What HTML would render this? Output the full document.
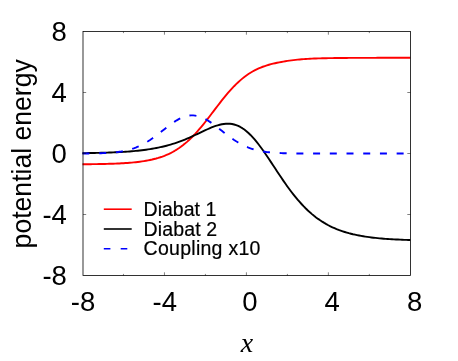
<!DOCTYPE html>
<html><head><meta charset="utf-8"><title>plot</title>
<style>
html,body{margin:0;padding:0;background:#fff;}
body{width:458px;height:361px;overflow:hidden;position:relative;font-family:"Liberation Sans",sans-serif;}
svg text{font-family:"Liberation Sans",sans-serif;fill:#000;}
svg text.xl{font-family:"Liberation Serif",serif;font-style:italic;}
</style></head><body>
<svg width="458" height="361" viewBox="0 0 458 361" style="position:absolute;left:0;top:0;will-change:transform;opacity:0.999">
<rect x="0" y="0" width="458" height="361" fill="#fff"/>
<g fill="none" stroke-linejoin="round">
<path d="M82.48,164.27 L84.53,164.25 L86.58,164.23 L88.63,164.21 L90.68,164.19 L92.73,164.16 L94.77,164.13 L96.82,164.10 L98.87,164.06 L100.92,164.03 L102.97,163.98 L105.02,163.93 L107.07,163.88 L109.12,163.82 L111.17,163.76 L113.22,163.69 L115.26,163.61 L117.31,163.52 L119.36,163.43 L121.41,163.32 L123.46,163.20 L125.51,163.07 L127.56,162.93 L129.61,162.77 L131.66,162.60 L133.71,162.41 L135.75,162.20 L137.80,161.96 L139.85,161.71 L141.90,161.43 L143.95,161.12 L146.00,160.78 L148.05,160.40 L150.10,159.99 L152.15,159.54 L154.19,159.04 L156.24,158.50 L158.29,157.91 L160.34,157.26 L162.39,156.55 L164.44,155.78 L166.49,154.94 L168.54,154.03 L170.59,153.04 L172.64,151.97 L174.69,150.81 L176.73,149.57 L178.78,148.22 L180.83,146.79 L182.88,145.24 L184.93,143.60 L186.98,141.85 L189.03,140.00 L191.08,138.04 L193.13,135.98 L195.18,133.82 L197.22,131.57 L199.27,129.23 L201.32,126.80 L203.37,124.30 L205.42,121.74 L207.47,119.13 L209.52,116.47 L211.57,113.79 L213.62,111.10 L215.67,108.40 L217.71,105.72 L219.76,103.07 L221.81,100.45 L223.86,97.89 L225.91,95.40 L227.96,92.97 L230.01,90.63 L232.06,88.38 L234.11,86.22 L236.16,84.17 L238.20,82.22 L240.25,80.37 L242.30,78.63 L244.35,77.00 L246.40,75.48 L248.45,74.06 L250.50,72.74 L252.55,71.52 L254.60,70.40 L256.64,69.36 L258.69,68.42 L260.74,67.55 L262.79,66.76 L264.84,66.03 L266.89,65.37 L268.94,64.76 L270.99,64.20 L273.04,63.69 L275.09,63.21 L277.13,62.76 L279.18,62.35 L281.23,61.96 L283.28,61.59 L285.33,61.25 L287.38,60.93 L289.43,60.63 L291.48,60.35 L293.53,60.09 L295.58,59.86 L297.62,59.64 L299.67,59.45 L301.72,59.27 L303.77,59.12 L305.82,58.98 L307.87,58.85 L309.92,58.74 L311.97,58.64 L314.02,58.56 L316.07,58.48 L318.12,58.41 L320.16,58.35 L322.21,58.29 L324.26,58.24 L326.31,58.20 L328.36,58.16 L330.41,58.12 L332.46,58.09 L334.51,58.06 L336.56,58.04 L338.61,58.01 L340.65,57.99 L342.70,57.97 L344.75,57.95 L346.80,57.94 L348.85,57.92 L350.90,57.91 L352.95,57.90 L355.00,57.89 L357.05,57.88 L359.10,57.87 L361.14,57.86 L363.19,57.86 L365.24,57.85 L367.29,57.84 L369.34,57.84 L371.39,57.83 L373.44,57.83 L375.49,57.83 L377.54,57.82 L379.59,57.82 L381.63,57.82 L383.68,57.81 L385.73,57.81 L387.78,57.81 L389.83,57.81 L391.88,57.81 L393.93,57.80 L395.98,57.80 L398.03,57.80 L400.07,57.80 L402.12,57.80 L404.17,57.80 L406.22,57.80 L408.27,57.80 L410.32,57.80" stroke="#ff0000" stroke-width="1.9"/>
<path d="M82.48,153.15 L84.53,153.13 L86.58,153.10 L88.63,153.06 L90.68,153.03 L92.73,152.99 L94.77,152.95 L96.82,152.90 L98.87,152.85 L100.92,152.80 L102.97,152.74 L105.02,152.68 L107.07,152.61 L109.12,152.54 L111.17,152.47 L113.22,152.38 L115.26,152.29 L117.31,152.19 L119.36,152.09 L121.41,151.98 L123.46,151.85 L125.51,151.72 L127.56,151.58 L129.61,151.43 L131.66,151.26 L133.71,151.08 L135.75,150.89 L137.80,150.69 L139.85,150.47 L141.90,150.23 L143.95,149.98 L146.00,149.71 L148.05,149.41 L150.10,149.10 L152.15,148.77 L154.19,148.41 L156.24,148.03 L158.29,147.62 L160.34,147.18 L162.39,146.72 L164.44,146.23 L166.49,145.71 L168.54,145.15 L170.59,144.57 L172.64,143.95 L174.69,143.29 L176.73,142.61 L178.78,141.89 L180.83,141.13 L182.88,140.34 L184.93,139.52 L186.98,138.67 L189.03,137.79 L191.08,136.89 L193.13,135.96 L195.18,135.01 L197.22,134.04 L199.27,133.07 L201.32,132.10 L203.37,131.13 L205.42,130.18 L207.47,129.24 L209.52,128.34 L211.57,127.49 L213.62,126.68 L215.67,125.95 L217.71,125.30 L219.76,124.73 L221.81,124.28 L223.86,123.94 L225.91,123.74 L227.96,123.68 L230.01,123.78 L232.06,124.05 L234.11,124.49 L236.16,125.12 L238.20,125.94 L240.25,126.96 L242.30,128.17 L244.35,129.58 L246.40,131.18 L248.45,132.98 L250.50,134.96 L252.55,137.11 L254.60,139.42 L256.64,141.89 L258.69,144.50 L260.74,147.22 L262.79,150.05 L264.84,152.98 L266.89,155.97 L268.94,159.02 L270.99,162.11 L273.04,165.22 L275.09,168.34 L277.13,171.45 L279.18,174.54 L281.23,177.59 L283.28,180.60 L285.33,183.55 L287.38,186.43 L289.43,189.24 L291.48,191.97 L293.53,194.62 L295.58,197.17 L297.62,199.63 L299.67,201.99 L301.72,204.25 L303.77,206.42 L305.82,208.49 L307.87,210.46 L309.92,212.33 L311.97,214.11 L314.02,215.80 L316.07,217.39 L318.12,218.90 L320.16,220.32 L322.21,221.67 L324.26,222.93 L326.31,224.12 L328.36,225.24 L330.41,226.29 L332.46,227.27 L334.51,228.19 L336.56,229.06 L338.61,229.87 L340.65,230.62 L342.70,231.33 L344.75,231.99 L346.80,232.61 L348.85,233.19 L350.90,233.72 L352.95,234.23 L355.00,234.69 L357.05,235.13 L359.10,235.54 L361.14,235.91 L363.19,236.26 L365.24,236.59 L367.29,236.90 L369.34,237.18 L371.39,237.44 L373.44,237.69 L375.49,237.92 L377.54,238.13 L379.59,238.33 L381.63,238.51 L383.68,238.68 L385.73,238.84 L387.78,238.98 L389.83,239.12 L391.88,239.25 L393.93,239.36 L395.98,239.47 L398.03,239.57 L400.07,239.67 L402.12,239.76 L404.17,239.84 L406.22,239.91 L408.27,239.98 L410.32,240.05" stroke="#000" stroke-width="1.9"/>
<path d="M82.48,153.47 L84.53,153.46 L86.58,153.44 L88.63,153.43 L90.68,153.41 L92.73,153.38 L94.77,153.35 L96.82,153.31 L98.87,153.27 L100.92,153.21 L102.97,153.14 L105.02,153.05 L107.07,152.95 L109.12,152.83 L111.17,152.68 L113.22,152.51 L115.26,152.31 L117.31,152.07 L119.36,151.79 L121.41,151.47 L123.46,151.10 L125.51,150.67 L127.56,150.19 L129.61,149.64 L131.66,149.03 L133.71,148.34 L135.75,147.58 L137.80,146.74 L139.85,145.82 L141.90,144.81 L143.95,143.72 L146.00,142.54 L148.05,141.29 L150.10,139.96 L152.15,138.56 L154.19,137.09 L156.24,135.57 L158.29,134.00 L160.34,132.40 L162.39,130.79 L164.44,129.16 L166.49,127.55 L168.54,125.97 L170.59,124.44 L172.64,122.97 L174.69,121.59 L176.73,120.31 L178.78,119.14 L180.83,118.11 L182.88,117.23 L184.93,116.51 L186.98,115.96 L189.03,115.59 L191.08,115.40 L193.13,115.40 L195.18,115.59 L197.22,115.96 L199.27,116.51 L201.32,117.23 L203.37,118.11 L205.42,119.14 L207.47,120.31 L209.52,121.59 L211.57,122.97 L213.62,124.44 L215.67,125.97 L217.71,127.55 L219.76,129.16 L221.81,130.79 L223.86,132.40 L225.91,134.00 L227.96,135.57 L230.01,137.09 L232.06,138.56 L234.11,139.96 L236.16,141.29 L238.20,142.54 L240.25,143.72 L242.30,144.81 L244.35,145.82 L246.40,146.74 L248.45,147.58 L250.50,148.34 L252.55,149.03 L254.60,149.64 L256.64,150.19 L258.69,150.67 L260.74,151.10 L262.79,151.47 L264.84,151.79 L266.89,152.07 L268.94,152.31 L270.99,152.51 L273.04,152.68 L275.09,152.83 L277.13,152.95 L279.18,153.05 L281.23,153.14 L283.28,153.21 L285.33,153.27 L287.38,153.31 L289.43,153.35 L291.48,153.38 L293.53,153.41 L295.58,153.43 L297.62,153.44 L299.67,153.46 L301.72,153.47 L303.77,153.47 L305.82,153.48 L307.87,153.49 L309.92,153.49 L311.97,153.49 L314.02,153.49 L316.07,153.50 L318.12,153.50 L320.16,153.50 L322.21,153.50 L324.26,153.50 L326.31,153.50 L328.36,153.50 L330.41,153.50 L332.46,153.50 L334.51,153.50 L336.56,153.50 L338.61,153.50 L340.65,153.50 L342.70,153.50 L344.75,153.50 L346.80,153.50 L348.85,153.50 L350.90,153.50 L352.95,153.50 L355.00,153.50 L357.05,153.50 L359.10,153.50 L361.14,153.50 L363.19,153.50 L365.24,153.50 L367.29,153.50 L369.34,153.50 L371.39,153.50 L373.44,153.50 L375.49,153.50 L377.54,153.50 L379.59,153.50 L381.63,153.50 L383.68,153.50 L385.73,153.50 L387.78,153.50 L389.83,153.50 L391.88,153.50 L393.93,153.50 L395.98,153.50 L398.03,153.50 L400.07,153.50 L402.12,153.50 L404.17,153.50 L406.22,153.50 L408.27,153.50 L410.32,153.50" stroke="#0000ff" stroke-width="1.9" stroke-dasharray="7,9.71"/>
</g>
<rect x="83.00" y="31.50" width="327.50" height="244.00" fill="none" stroke="#000" stroke-width="0.8"/>
<path d="M123.46,275.50 v-1.6 M123.46,31.50 v1.6 M164.44,275.50 v-3.2 M164.44,31.50 v3.2 M205.42,275.50 v-1.6 M205.42,31.50 v1.6 M246.40,275.50 v-3.2 M246.40,31.50 v3.2 M287.38,275.50 v-1.6 M287.38,31.50 v1.6 M328.36,275.50 v-3.2 M328.36,31.50 v3.2 M369.34,275.50 v-1.6 M369.34,31.50 v1.6 M83.00,214.50 h3.2 M410.50,214.50 h-3.2 M83.00,153.50 h3.2 M410.50,153.50 h-3.2 M83.00,92.50 h3.2 M410.50,92.50 h-3.2" stroke="#000" stroke-width="0.5" fill="none"/>
<text x="66.9" y="285.40" text-anchor="end" font-size="27.5">-8</text>
<text x="66.9" y="224.40" text-anchor="end" font-size="27.5">-4</text>
<text x="66.9" y="163.40" text-anchor="end" font-size="27.5">0</text>
<text x="66.9" y="102.40" text-anchor="end" font-size="27.5">4</text>
<text x="66.9" y="41.40" text-anchor="end" font-size="27.5">8</text>
<text x="83.08" y="311" text-anchor="middle" font-size="27.5">-8</text>
<text x="164.74" y="311" text-anchor="middle" font-size="27.5">-4</text>
<text x="249.80" y="311" text-anchor="middle" font-size="27.5">0</text>
<text x="332.16" y="311" text-anchor="middle" font-size="27.5">4</text>
<text x="414.72" y="311" text-anchor="middle" font-size="27.5">8</text>
<text transform="translate(30.7,153.8) rotate(-90) scale(0.967,1)" text-anchor="middle" font-size="27.5">potential energy</text>
<text x="247" y="351.6" text-anchor="middle" font-size="28" class="xl">x</text>
<g font-size="19.5" stroke="#000" stroke-width="0.2">
<path d="M103.8,209.2 h27.9" stroke="#ff0000" stroke-width="1.6" fill="none"/>
<text x="143.6" y="215.7" letter-spacing="0.00">Diabat 1</text>
<path d="M103.8,229.0 h27.9" stroke="#000" stroke-width="1.6" fill="none"/>
<text x="143.6" y="235.6" letter-spacing="0.14">Diabat 2</text>
<path d="M103.8,248.7 h27.9" stroke="#0000ff" stroke-width="1.6" fill="none" stroke-dasharray="6.6,10.3"/>
<text x="143.6" y="255.4" letter-spacing="0.27">Coupling x10</text>
</g>
</svg>
</body></html>
